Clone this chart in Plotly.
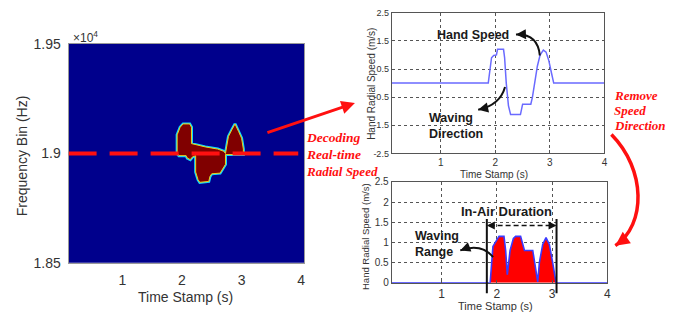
import plotly.graph_objects as go

W, H = 685, 324

# ---------------- data ----------------
# left: doppler blob (time s, frequency x1e4 Hz), outline
blob_t = [1.92, 1.92, 1.97, 2.02, 2.13, 2.16, 2.16, 2.26, 2.39, 2.60, 2.70, 2.73, 2.78, 2.84, 2.89,
          2.95, 3.00, 3.03, 3.03, 2.73, 2.73, 2.64, 2.50, 2.47, 2.45, 2.30, 2.27, 2.23, 2.23,
          2.18, 2.14, 2.09, 2.07, 1.95, 1.92]
blob_f = [1.9000, 1.9085, 1.9120, 1.9135, 1.9135, 1.9120, 1.9045, 1.9038, 1.9030, 1.9020, 1.9010,
          1.9000, 1.9078, 1.9110, 1.9135, 1.9100, 1.9070, 1.9020, 1.8995, 1.8995, 1.8950, 1.8910,
          1.8907, 1.8895, 1.8872, 1.8868, 1.8880, 1.8915, 1.8990, 1.8985, 1.8972, 1.8979,
          1.8990, 1.8990, 1.9000]
carrier_freq = 1.9  # x1e4 Hz

# top right: signed hand radial speed
t_speed = [0.1, 1.87, 1.93, 1.97, 2.02, 2.04, 2.15, 2.17, 2.20, 2.24, 2.28, 2.46, 2.50, 2.65,
           2.68, 2.72, 2.77, 2.82, 2.88, 2.93, 2.98, 3.03, 3.07, 4.0]
v_speed = [0, 0, 0.9, 0.98, 1.0, 1.2, 1.2, 0.9, 0.0, -0.8, -1.12, -1.12, -0.75, -0.75,
           -0.5, 0.0, 0.6, 1.0, 1.17, 1.1, 0.8, 0.35, 0, 0]

# bottom right: absolute hand radial speed
t_abs = [0.1, 1.88, 1.93, 1.98, 2.04, 2.13, 2.16, 2.19, 2.24, 2.30, 2.34, 2.43, 2.50, 2.65,
         2.71, 2.74, 2.77, 2.83, 2.89, 2.95, 3.01, 3.07, 4.0]
v_abs = [0, 0, 0.9, 1.0, 1.15, 1.15, 0.8, 0.2, 0.8, 1.1, 1.15, 1.15, 0.8, 0.8,
         0.3, 0.02, 0.5, 0.95, 1.12, 0.95, 0.5, 0, 0]
air_start, air_end, air_level = 1.82, 3.08, 1.42

x_ticks = [1, 2, 3, 4]
left_yticks = [1.85, 1.9, 1.95]
top_yticks = [2.5, 1.5, 0.5, -0.5, -1.5, -2.5]
bot_yticks = [0, 0.5, 1, 1.5, 2, 2.5]


def px(x):
    return x / W


def py(y):
    return 1 - y / H


fig = go.Figure()

# blob: cyan outer edge, then fill with yellow-ish inner edge
fig.add_trace(go.Scatter(x=blob_t, y=blob_f, mode="lines", line=dict(color="#10d8ff", width=3),
                         xaxis="x", yaxis="y", hoverinfo="skip"))
fig.add_trace(go.Scatter(x=blob_t, y=blob_f, mode="lines", fill="toself", fillcolor="#800000",
                         line=dict(color="#e8d020", width=1), xaxis="x", yaxis="y", hoverinfo="skip"))

fig.add_trace(go.Scatter(x=t_speed, y=v_speed, mode="lines", line=dict(color="#6a6aff", width=1.5),
                         xaxis="x2", yaxis="y2"))
fig.add_trace(go.Scatter(x=t_abs, y=v_abs, mode="lines", fill="tozeroy", fillcolor="#ff0000",
                         line=dict(color="#3a3aff", width=1.6), xaxis="x3", yaxis="y3"))

axis_font = dict(family="Liberation Sans, Arial", color="#333")

left_dom_x = [px(69), px(306)]
left_dom_y = [py(268), py(38)]
tr_dom_x = [px(394), px(608)]
tr_dom_y = [py(153), py(5)]
br_dom_x = [px(394), px(611)]
br_dom_y = [py(289), py(183)]

common_r = dict(showline=True, mirror=True, linecolor="#555", linewidth=1, ticks="inside",
                ticklen=3, tickcolor="#555", zeroline=False, showgrid=True, gridcolor="#555",
                griddash="dot", gridwidth=1)

fig.update_layout(
    width=W, height=H, autosize=False, margin=dict(l=0, r=0, t=0, b=0),
    paper_bgcolor="white", plot_bgcolor="white", showlegend=False,
    xaxis=dict(domain=left_dom_x, range=[0.1, 4.05], tickvals=x_ticks, showgrid=False, zeroline=False,
               showline=True, mirror=True, linecolor="#999", ticks="",
               tickfont=dict(size=14, **axis_font), ticklabelstandoff=4),
    yaxis=dict(domain=left_dom_y, range=[1.85, 1.95], tickvals=left_yticks,
               ticktext=[str(v) for v in left_yticks], showgrid=False, zeroline=False,
               showline=True, mirror=True, linecolor="#999", ticks="",
               tickfont=dict(size=14, **axis_font), ticklabelstandoff=4),
    xaxis2=dict(domain=tr_dom_x, range=[0.1, 4], tickvals=x_ticks, anchor="y2",
                tickfont=dict(size=10, **axis_font), **common_r),
    yaxis2=dict(domain=tr_dom_y, range=[-2.5, 2.5], tickvals=top_yticks,
                ticktext=[str(v) for v in top_yticks], anchor="x2",
                tickfont=dict(size=9, **axis_font), **common_r),
    xaxis3=dict(domain=br_dom_x, range=[0.1, 4], tickvals=x_ticks, anchor="y3",
                tickfont=dict(size=12, **axis_font), **common_r),
    yaxis3=dict(domain=br_dom_y, range=[0, 2.5], tickvals=bot_yticks,
                ticktext=[str(v) for v in bot_yticks], anchor="x3",
                tickfont=dict(size=10, **axis_font), **common_r),
)

shapes = []
# navy spectrogram background
shapes.append(dict(type="rect", xref="x domain", yref="y domain", x0=0, x1=1, y0=0, y1=1,
                   fillcolor="#00008c", line=dict(width=0), layer="below"))
# dashed carrier line
shapes.append(dict(type="line", xref="x", yref="y", x0=0.1, x1=3.95, y0=carrier_freq, y1=carrier_freq,
                   line=dict(color="#ff1010", width=4, dash="28px,13px")))
# in-air duration markers
for xv in (air_start, air_end):
    shapes.append(dict(type="line", xref="x3", yref="paper", x0=xv, x1=xv, y0=py(300), y1=py(222),
                       line=dict(color="#111", width=2)))
shapes.append(dict(type="line", xref="x3", yref="y3", x0=air_start + 0.05, x1=air_end - 0.05,
                   y0=air_level, y1=air_level, line=dict(color="#111", width=1.6, dash="5px,3px")))


def qpath(p0, c, p1):
    return f"M {px(p0[0])},{py(p0[1])} Q {px(c[0])},{py(c[1])} {px(p1[0])},{py(p1[1])}"


def cpath(p0, c1, c2, p1):
    return (f"M {px(p0[0])},{py(p0[1])} C {px(c1[0])},{py(c1[1])} {px(c2[0])},{py(c2[1])} "
            f"{px(p1[0])},{py(p1[1])}")


curves = [
    (qpath((543, 50), (541, 27), (519, 28)), "#111", 2, (519, 28), (541, 27)),
    (qpath((508, 83), (503, 102), (481, 107)), "#111", 2, (481, 107), (503, 102)),
    (qpath((496, 262), (484, 247), (463, 255)), "#111", 2, (463, 255), (484, 247)),
    (cpath((615, 133), (650, 170), (650, 228), (619, 250)), "#ff1010", 3.5, (619, 250), (650, 228)),
]

annotations = []
for path, col, wdt, head, ctrl in curves:
    shapes.append(dict(type="path", xref="paper", yref="paper", path=path,
                       line=dict(color=col, width=wdt)))
    dx, dy = ctrl[0] - head[0], ctrl[1] - head[1]
    n = (dx * dx + dy * dy) ** 0.5
    L = 6
    annotations.append(dict(xref="paper", yref="paper", x=px(head[0]), y=py(head[1]),
                            ax=dx / n * L, ay=dy / n * L, text="", showarrow=True,
                            arrowhead=2, arrowsize=1.0 if wdt < 3 else 0.8,
                            arrowwidth=wdt, arrowcolor=col))

# straight red arrow
annotations.append(dict(xref="paper", yref="paper", x=px(357), y=py(100), ax=268 - 357, ay=130 - 100,
                        text="", showarrow=True, arrowhead=2, arrowsize=0.9, arrowwidth=3,
                        arrowcolor="#ff1010"))
# in-air arrow heads
annotations.append(dict(xref="x3", yref="y3", x=air_start, y=air_level, ax=9, ay=0, text="",
                        showarrow=True, arrowhead=2, arrowsize=1, arrowwidth=1.6, arrowcolor="#111"))
annotations.append(dict(xref="x3", yref="y3", x=air_end, y=air_level, ax=-9, ay=0, text="",
                        showarrow=True, arrowhead=2, arrowsize=1, arrowwidth=1.6, arrowcolor="#111"))


def txt(x, y, s, size, color="#333", family="Liberation Sans, Arial", xanchor="center",
        angle=0, bold=False, italic=False):
    if italic:
        s = f"<i>{s}</i>"
    if bold:
        s = f"<b>{s}</b>"
    annotations.append(dict(xref="paper", yref="paper", x=px(x), y=py(y), text=s, showarrow=False,
                            xanchor=xanchor, yanchor="middle", textangle=angle,
                            font=dict(size=size, color=color, family=family)))


# axis titles
txt(22, 155, "Frequency Bin (Hz)", 14, angle=-90)
txt(187, 304, "Time Stamp (s)", 14)
txt(71, 31, "×10<sup>4</sup>", 12, xanchor="left")
txt(373, 80, "Hand Radial Speed (m/s)", 10, angle=-90)
txt(497, 175, "Time Stamp (s)", 10)
txt(367, 240, "Hand Radial Speed (m/s)", 9.5, angle=-90)
txt(498, 314, "Time Stamp (s)", 11)

# black bold callouts
txt(476, 28, "Hand Speed", 12.5, color="#1a1a1a", bold=True)
txt(430, 116, "Waving", 12.5, color="#1a1a1a", bold=True, xanchor="left")
txt(430, 133, "Direction", 12.5, color="#1a1a1a", bold=True, xanchor="left")
txt(509, 214, "In-Air Duration", 13, color="#1a1a1a", bold=True)
txt(415, 240, "Waving", 12.5, color="#1a1a1a", bold=True, xanchor="left")
txt(415, 257, "Range", 12.5, color="#1a1a1a", bold=True, xanchor="left")

# red italic serif notes
serif = "Liberation Serif, Times New Roman"
txt(306, 136, "Decoding", 13.5, color="#ff1010", family=serif, xanchor="left", bold=True, italic=True)
txt(306, 154, "Real-time", 13.5, color="#ff1010", family=serif, xanchor="left", bold=True, italic=True)
txt(306, 172, "Radial Speed", 13, color="#ff1010", family=serif, xanchor="left", bold=True, italic=True)
txt(616, 92, "Remove", 13, color="#ff1010", family=serif, xanchor="left", bold=True, italic=True)
txt(616, 108, "Speed", 13, color="#ff1010", family=serif, xanchor="left", bold=True, italic=True)
txt(616, 124, "Direction", 13, color="#ff1010", family=serif, xanchor="left", bold=True, italic=True)

fig.update_layout(shapes=shapes, annotations=annotations)
fig.write_html("out.html")
